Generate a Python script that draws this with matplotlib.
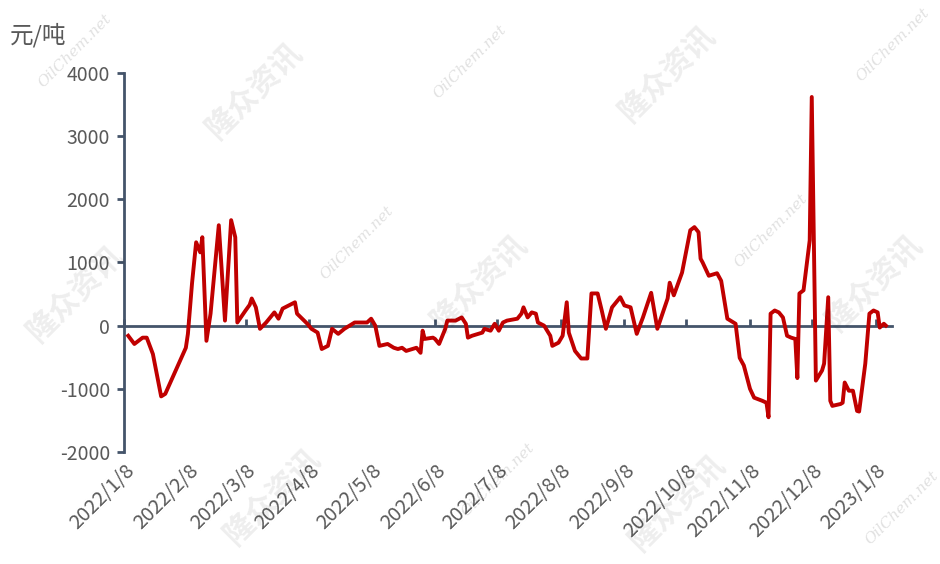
import pandas as pd
import matplotlib
matplotlib.use('Agg')
import matplotlib.pyplot as plt

plt.rcParams['font.family'] = ['Noto Sans CJK SC', 'DejaVu Sans']

# price spread, 元/吨
dates = [
    '2022-01-10', '2022-01-13', '2022-01-17', '2022-01-19', '2022-01-22', '2022-01-26', '2022-01-28',
    '2022-02-07', '2022-02-08', '2022-02-10', '2022-02-12', '2022-02-14', '2022-02-15', '2022-02-17',
    '2022-02-19', '2022-02-23', '2022-02-26', '2022-03-01', '2022-03-03', '2022-03-04', '2022-03-08',
    '2022-03-10', '2022-03-11', '2022-03-13', '2022-03-15', '2022-03-18', '2022-03-22', '2022-03-24',
    '2022-03-26', '2022-04-01', '2022-04-02', '2022-04-07', '2022-04-09', '2022-04-12', '2022-04-14',
    '2022-04-17', '2022-04-19', '2022-04-22', '2022-04-25', '2022-04-30', '2022-05-06', '2022-05-08',
    '2022-05-10', '2022-05-12', '2022-05-16', '2022-05-19', '2022-05-21', '2022-05-23', '2022-05-25',
    '2022-05-28', '2022-05-30', '2022-06-01', '2022-06-02', '2022-06-03', '2022-06-07', '2022-06-08',
    '2022-06-10', '2022-06-13', '2022-06-14', '2022-06-18', '2022-06-21', '2022-06-23', '2022-06-24',
    '2022-06-26', '2022-07-01', '2022-07-02', '2022-07-05', '2022-07-07', '2022-07-09', '2022-07-11',
    '2022-07-13', '2022-07-18', '2022-07-20', '2022-07-21', '2022-07-23', '2022-07-25', '2022-07-27',
    '2022-07-28', '2022-07-31', '2022-08-03', '2022-08-04', '2022-08-07', '2022-08-09', '2022-08-11',
    '2022-08-12', '2022-08-15', '2022-08-18', '2022-08-21', '2022-08-23', '2022-08-26', '2022-08-28',
    '2022-08-30', '2022-09-02', '2022-09-06', '2022-09-08', '2022-09-11', '2022-09-14', '2022-09-17',
    '2022-09-21', '2022-09-24', '2022-09-29', '2022-09-30', '2022-10-02', '2022-10-06', '2022-10-10',
    '2022-10-12', '2022-10-14', '2022-10-15', '2022-10-16', '2022-10-19', '2022-10-23', '2022-10-25',
    '2022-10-28', '2022-11-01', '2022-11-03', '2022-11-05', '2022-11-08', '2022-11-10', '2022-11-14',
    '2022-11-16', '2022-11-17', '2022-11-18', '2022-11-20', '2022-11-22', '2022-11-24', '2022-11-26',
    '2022-11-28', '2022-11-30', '2022-12-01', '2022-12-02', '2022-12-04', '2022-12-06', '2022-12-07',
    '2022-12-08', '2022-12-10', '2022-12-13', '2022-12-14', '2022-12-16', '2022-12-17', '2022-12-18',
    '2022-12-22', '2022-12-23', '2022-12-24', '2022-12-26', '2022-12-28', '2022-12-30', '2022-12-31',
    '2023-01-03', '2023-01-05', '2023-01-07', '2023-01-09', '2023-01-10', '2023-01-12', '2023-01-13',
]
values = [
    -160, -290, -190, -190, -450, -1120, -1080,
    -350, -130, 670, 1320, 1160, 1400, -240,
    190, 1590, 80, 1670, 1400, 50, 240,
    330, 430, 290, -50, 50, 210, 110,
    270, 370, 190, 30, -50, -110, -370,
    -320, -50, -130, -50, 50, 50, 110,
    0, -320, -290, -350, -370, -350, -400,
    -370, -350, -430, -80, -210, -190, -210,
    -290, -50, 80, 80, 130, 30, -190,
    -160, -110, -50, -80, 30, -80, 50,
    80, 110, 190, 290, 130, 210, 190,
    50, 0, -160, -320, -270, -160, 370,
    -110, -400, -520, -520, 510, 510, 240,
    -50, 290, 450, 320, 290, -130, 130,
    520, -50, 430, 680, 480, 840, 1510,
    1560, 1480, 1060, 1000, 790, 830, 710,
    110, 30, -510, -630, -1000, -1140, -1190,
    -1220, -1450, 190, 240, 210, 130, -160,
    -190, -210, -830, 510, 560, 1080, 1350,
    3620, -870, -710, -600, 450, -1190, -1270,
    -1240, -1220, -900, -1030, -1030, -1350, -1360,
    -600, 190, 240, 210, -30, 30, 0,
]
tick_dates = ['2022-01-08', '2022-02-08', '2022-03-08', '2022-04-08', '2022-05-08', '2022-06-08',
              '2022-07-08', '2022-08-08', '2022-09-08', '2022-10-08', '2022-11-08', '2022-12-08',
              '2023-01-08']
yticks = [-2000, -1000, 0, 1000, 2000, 3000, 4000]

axis_color = '#44546A'
text_color = '#595959'

fig = plt.figure(figsize=(9.4, 5.64), dpi=100)
ax = fig.add_axes([0.132, 0.1986, 0.817, 0.672])

# watermarks
for x, y in [(0.27, 0.84), (0.71, 0.87), (0.08, 0.48), (0.51, 0.5), (0.93, 0.5), (0.29, 0.12), (0.72, 0.11)]:
    fig.text(x, y, '隆众资讯', fontsize=22, fontweight='bold', color='#000000', alpha=0.07,
             rotation=45, ha='center', va='center')
for x, y in [(0.08, 0.91), (0.5, 0.89), (0.95, 0.92), (0.38, 0.57), (0.82, 0.59), (0.53, 0.15), (0.96, 0.1)]:
    fig.text(x, y, 'OilChem.net', fontsize=11, family='DejaVu Serif', style='italic', color='#000000',
             alpha=0.12, rotation=45, ha='center', va='center')

x = pd.to_datetime(dates)
ax.plot(x, values, color='#C00000', linewidth=2.8, zorder=3)

ax.set_xlim(pd.Timestamp('2022-01-08'), pd.Timestamp('2023-01-16'))
ax.set_ylim(-2000, 4000)
ax.set_yticks(yticks)
ax.set_yticklabels([str(v) for v in yticks])

for s in ['top', 'right', 'bottom']:
    ax.spines[s].set_visible(False)
ax.spines['left'].set_color(axis_color)
ax.spines['left'].set_linewidth(2)
ax.tick_params(axis='y', direction='out', length=5, width=2, color=axis_color,
               labelsize=14, labelcolor=text_color, pad=5)

ticks = pd.to_datetime(tick_dates)
ax.set_xticks(ticks)
ax.set_xticklabels([f'{t.year}/{t.month}/{t.day}' for t in ticks], rotation=45, ha='right',
                   rotation_mode='anchor', fontsize=14.5, color=text_color)
ax.tick_params(axis='x', length=0, pad=6)

# zero line with tick marks
sec = ax.secondary_xaxis(1 / 3)
sec.set_xticks(ticks)
sec.set_xticklabels([])
sec.spines['bottom'].set_color(axis_color)
sec.spines['bottom'].set_linewidth(2)
sec.tick_params(axis='x', direction='in', length=5, width=2, color=axis_color)
sec.set_zorder(2)

fig.text(0.011, 0.937, '元/吨', fontsize=17, color=text_color, va='center', ha='left')

fig.savefig('out.png', dpi=100)
